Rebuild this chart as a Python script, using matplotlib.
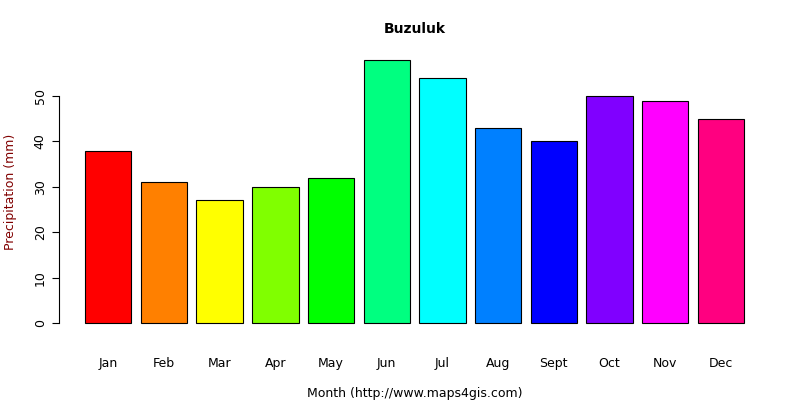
import matplotlib.pyplot as plt

months = ["Jan", "Feb", "Mar", "Apr", "May", "Jun", "Jul", "Aug", "Sept", "Oct", "Nov", "Dec"]
precip = [38, 31, 27, 30, 32, 58, 54, 43, 40, 50, 49, 45]
colors = ["#FF0000", "#FF8000", "#FFFF00", "#80FF00", "#00FF00", "#00FF80",
          "#00FFFF", "#0080FF", "#0000FF", "#8000FF", "#FF00FF", "#FF0080"]

fig = plt.figure(figsize=(8, 4), dpi=100)
ax = fig.add_axes([0.0733, 0.166, 0.8898, 0.711])

lefts = [0.2 + 1.2 * i for i in range(len(months))]
centers = [x + 0.5 for x in lefts]
ax.bar(centers, precip, width=1.0, color=colors, edgecolor="black", linewidth=0.8)

ax.set_xlim(-0.368, 14.968)
ax.set_ylim(-2.32, 60.32)
for s in ["top", "right", "bottom"]:
    ax.spines[s].set_visible(False)
ax.spines["left"].set_bounds(0, 50)
ax.set_yticks([0, 10, 20, 30, 40, 50])
ax.set_yticklabels(["0", "10", "20", "30", "40", "50"], rotation=90, va="center", fontsize=9)
ax.tick_params(axis="y", length=5)
ax.set_xticks(centers)
ax.set_xticklabels(months, fontsize=9)
ax.tick_params(axis="x", length=0, pad=17)

ax.set_title("Buzuluk", fontsize=10, fontweight="bold", pad=12)
ax.set_xlabel("Month (http://www.maps4gis.com)", fontsize=9, labelpad=12)
ax.set_ylabel("Precipitation (mm)", fontsize=9, color="#800000", labelpad=12)

fig.savefig("out.png", dpi=100)
